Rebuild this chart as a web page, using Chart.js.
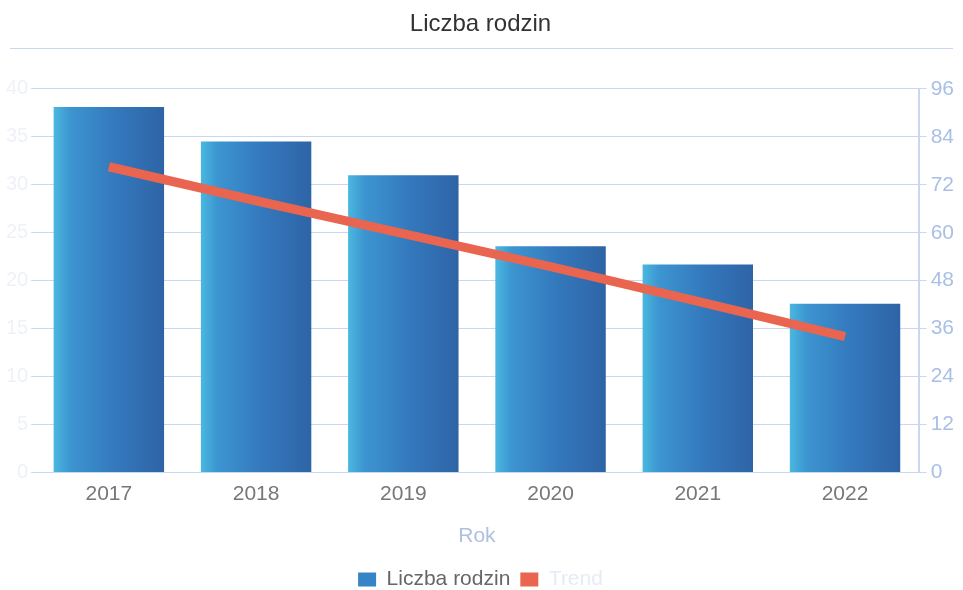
<!DOCTYPE html>
<html>
<head>
<meta charset="utf-8">
<script src="https://cdn.jsdelivr.net/npm/chart.js@4.4.0/dist/chart.umd.min.js"></script>
<style>
  body { margin: 0; background: #fff; }
  .wrap { position: relative; width: 963px; height: 590px; }
</style>
</head>
<body>
<div class="wrap"><canvas id="bar-chart"></canvas></div>
<script>
// values
const years = ["2017", "2018", "2019", "2020", "2021", "2022"];
const families = [38.1, 34.5, 31.0, 23.6, 21.7, 17.6];   // left axis
const trend = [76.5, 68.0, 59.8, 51.5, 42.8, 34.0];      // right axis
const leftTicks = [0, 5, 10, 15, 20, 25, 30, 35, 40];
const rightTicks = [0, 12, 24, 36, 48, 60, 72, 84, 96];

const BAR_PCT = 0.75;
const FONT = "Arial, Liberation Sans";

// horizontal blue gradient for each bar, placed from the x scale
function barFill(c) {
  const chart = c.chart;
  const xs = chart.scales.x;
  if (!xs || !chart.chartArea) return "#3a7cc0";
  const cx = xs.getPixelForValue(c.dataIndex);
  const w = (chart.chartArea.width / years.length) * BAR_PCT;
  const x0 = cx - w / 2;
  const g = chart.ctx.createLinearGradient(x0, 0, x0 + w, 0);
  g.addColorStop(0, "#4ab8e0");
  g.addColorStop(0.15, "#3c95d0");
  g.addColorStop(0.55, "#3479bd");
  g.addColorStop(1, "#2e64a6");
  return g;
}

// thin rule under the title
const titleRule = {
  id: "titleRule",
  afterDraw(chart) {
    const ctx = chart.ctx;
    ctx.save();
    ctx.strokeStyle = "#c9d8f0";
    ctx.lineWidth = 1;
    ctx.beginPath();
    ctx.moveTo(10, 48.5);
    ctx.lineTo(953, 48.5);
    ctx.stroke();
    ctx.restore();
  }
};

const ctx = document.getElementById("bar-chart").getContext("2d");
new Chart(ctx, {
  type: "bar",
  data: {
    labels: years,
    datasets: [
      {
        type: "line",
        label: "Trend",
        data: trend,
        yAxisID: "y1",
        borderColor: "#e9654f",
        backgroundColor: "#e9654f",
        borderWidth: 9,
        pointRadius: 0,
        fill: false,
        tension: 0,
        order: 0
      },
      {
        label: "Liczba rodzin",
        data: families,
        yAxisID: "y",
        backgroundColor: barFill,
        borderWidth: 0,
        categoryPercentage: BAR_PCT,
        barPercentage: 1,
        order: 1
      }
    ]
  },
  options: {
    responsive: true,
    maintainAspectRatio: false,
    animation: false,
    layout: { padding: { left: 3, right: 5, top: 4, bottom: -10 } },
    plugins: {
      title: {
        display: true,
        text: "Liczba rodzin",
        color: "#333",
        font: { family: FONT, size: 24, weight: "normal" },
        padding: { top: 6, bottom: 50 }
      },
      legend: {
        display: true,
        position: "bottom",
        labels: {
          color: "#666",
          font: { family: FONT, size: 21 },
          boxWidth: 18,
          boxHeight: 14,
          padding: 10,
          generateLabels(chart) {
            return [
              { text: "Liczba rodzin", fillStyle: "#3585c6", strokeStyle: "#3585c6", lineWidth: 0, datasetIndex: 1, fontColor: "#666" },
              { text: "Trend", fillStyle: "#e9654f", strokeStyle: "#e9654f", lineWidth: 0, datasetIndex: 0, fontColor: "#e4ecf4" }
            ];
          }
        }
      },
      tooltip: { enabled: false }
    },
    scales: {
      x: {
        grid: { display: false },
        border: { color: "#c9d8f0" },
        ticks: { color: "#777", font: { family: FONT, size: 21 }, padding: 1 },
        title: {
          display: true,
          text: "Rok",
          color: "#b0c0e0",
          font: { family: FONT, size: 21 },
          padding: { top: 16, bottom: 10 }
        }
      },
      y: {
        position: "left",
        min: 0,
        max: 40,
        afterBuildTicks(axis) { axis.ticks = leftTicks.map(v => ({ value: v })); },
        grid: { color: "#c9d8f0", tickLength: 4 },
        border: { display: false },
        ticks: { color: "#eef1f5", font: { family: FONT, size: 20 }, padding: 3 }
      },
      y1: {
        position: "right",
        min: 0,
        max: 96,
        afterBuildTicks(axis) { axis.ticks = rightTicks.map(v => ({ value: v })); },
        grid: { drawOnChartArea: false, color: "#c9d8f0", tickLength: 8 },
        border: { color: "#c9d8f0", width: 2 },
        ticks: { color: "#a9bfe6", font: { family: FONT, size: 21 }, padding: 4 }
      }
    }
  },
  plugins: [titleRule]
});
</script>
</body>
</html>
